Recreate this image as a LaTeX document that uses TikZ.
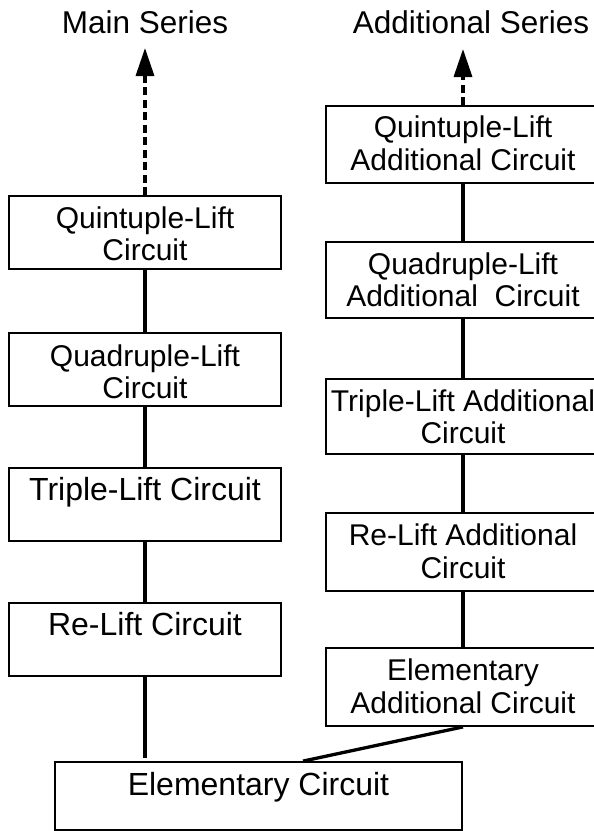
\documentclass[tikz,border=0pt]{standalone}
\usepackage{fontspec}
\setmainfont{Liberation Sans}
\usetikzlibrary{arrows.meta,calc}
\begin{document}
\begin{tikzpicture}[x=1pt,y=-1pt,
  box/.style={draw, line width=1.8pt, inner sep=0pt},
  lbox/.style={box, minimum width=272pt, minimum height=73pt},
  rbox/.style={box, minimum width=274pt},
  conn/.style={line width=3.3pt},
  dconn/.style={line width=3.3pt, dash pattern=on 8pt off 4.5pt, -{Triangle[width=18pt,length=28pt]}},
  big/.style={font=\fontsize{32}{36}\selectfont, inner sep=0pt, anchor=base},
  two/.style={font=\fontsize{30}{34}\selectfont, inner sep=0pt, anchor=base},
  ttl/.style={font=\fontsize{31.5}{36}\selectfont, inner sep=0pt, anchor=base}]
\useasboundingbox (0,0) rectangle (594,831);
\clip (0,0) rectangle (594,831);
% titles
\node[ttl] (tm) at (145,33) {Main Series};
\node[ttl] (ta) at (471,33) {Additional Series};
% left column
\node[lbox] (q5) at (145,232.5) {};
\node[two] (q5l1) at (145,228) {Quintuple-Lift};
\node[two] (q5l2) at (145,260) {Circuit};
\node[lbox] (q4) at (145,369.5) {};
\node[two] (q4l1) at (145,366) {Quadruple-Lift};
\node[two] (q4l2) at (145,398) {Circuit};
\node[lbox] (t3) at (145,504.5) {};
\node[big] (t3l1) at (145,500) {Triple-Lift Circuit};
\node[lbox] (r) at (145,639.5) {};
\node[big] (rl1) at (145,635) {Re-Lift Circuit};
\node[box, minimum width=407pt, minimum height=68pt] (elem) at (258.5,796) {};
\node[big] (eleml1) at (258.5,795) {Elementary Circuit};
% right column
\node[rbox, minimum height=77pt] (q5a) at (463,144.5) {};
\node[two] (q5al1) at (463,137) {Quintuple-Lift};
\node[two] (q5al2) at (463,170) {Additional Circuit};
\node[rbox, minimum height=76pt] (q4a) at (463,280) {};
\node[two] (q4al1) at (463,274) {Quadruple-Lift};
\node[two] (q4al2) at (463,306) {Additional\ \ Circuit};
\node[rbox, minimum height=75pt] (t3a) at (463,416.5) {};
\node[two] (t3al1) at (463,411) {Triple-Lift Additional};
\node[two] (t3al2) at (463,443) {Circuit};
\node[rbox, minimum height=78pt] (ra) at (463,552) {};
\node[two] (ral1) at (463,545) {Re-Lift Additional};
\node[two] (ral2) at (463,578) {Circuit};
\node[rbox, minimum height=78pt] (ea) at (463,687) {};
\node[two] (eal1) at (463,680) {Elementary};
\node[two] (eal2) at (463,713) {Additional Circuit};
% connectors
\coordinate (tipM) at (145,48);
\coordinate (tipA) at (463,49);
\coordinate (me) at (145,758);
\coordinate (ed) at ($(elem.north)+(44.5,0)$);
\draw[dconn] (q5.north) -- (tipM);
\draw[dconn] (q5a.north) -- (tipA);
\draw[conn] (q5.south) -- (q4.north);
\draw[conn] (q4.south) -- (t3.north);
\draw[conn] (t3.south) -- (r.north);
\draw[conn] (r.south) -- (me);
\draw[conn] (q5a.south) -- (q4a.north);
\draw[conn] (q4a.south) -- (t3a.north);
\draw[conn] (t3a.south) -- (ra.north);
\draw[conn] (ra.south) -- (ea.north);
\draw[conn] (ea.south) -- (ed);
\end{tikzpicture}
\end{document}
